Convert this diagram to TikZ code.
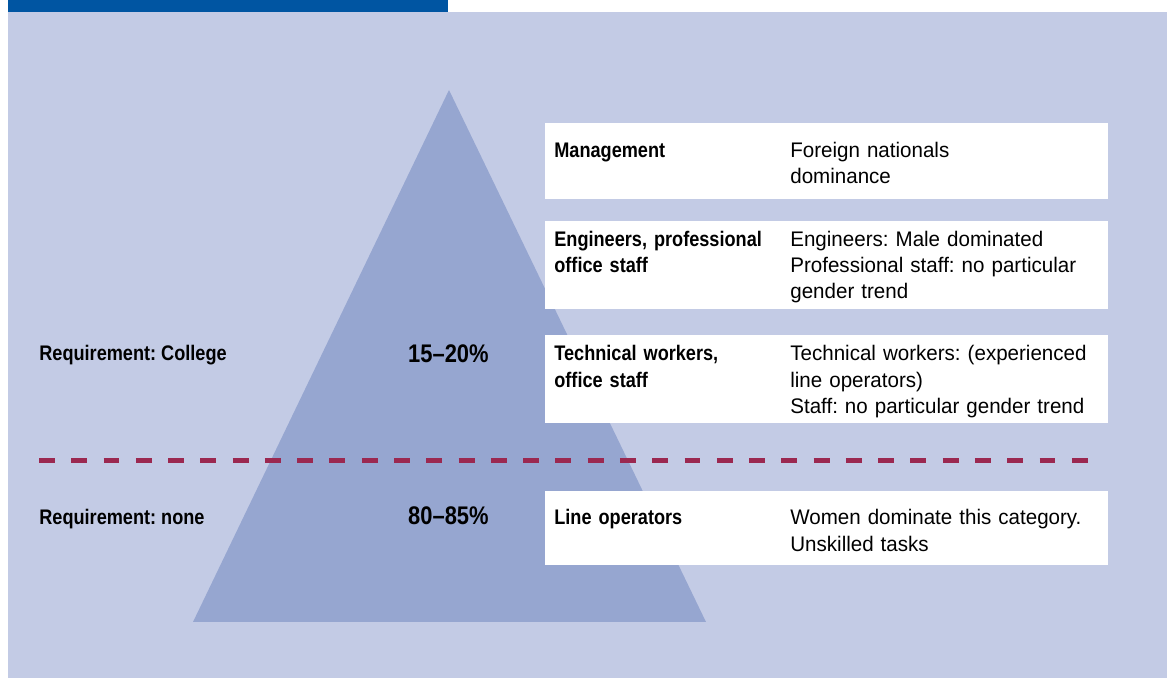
\documentclass[tikz,border=0pt]{standalone}
\usepackage{fontspec}
\setmainfont{Liberation Sans}[FakeStretch=0.975, BoldFeatures={FakeStretch=0.86}]
\usetikzlibrary{positioning}

\definecolor{panel}{RGB}{195,203,229}
\definecolor{pyramid}{RGB}{150,166,208}
\definecolor{headerblue}{RGB}{0,85,162}
\definecolor{divider}{RGB}{155,40,80}

\begin{document}
\frenchspacing
\begin{tikzpicture}[
    x=0.02cm, y=-0.02cm,
    role/.style={anchor=base west, inner sep=0pt, text width=4.4cm, align=left,
                 font=\fontsize{12}{14.8}\selectfont\bfseries},
    note/.style={anchor=base west, inner sep=0pt, text width=6.4cm, align=left,
                 font=\fontsize{12}{14.8}\selectfont},
    req/.style={anchor=base west, inner sep=0pt, font=\fontsize{12}{14.8}\selectfont\bfseries},
    share/.style={anchor=base east, inner sep=0pt, font=\fontsize{14.5}{17}\selectfont\bfseries},
    row/.style={fill=white}
  ]
  \useasboundingbox (0,0) rectangle (1167,678);

  % --- panel and header strip ---
  \fill[panel] (8,12) rectangle (1167,678);
  \fill[headerblue] (8,0) rectangle (448,12);

  % --- pyramid ---
  \fill[pyramid] (449,90) -- (706,622) -- (193,622) -- cycle;

  % --- white rows ---
  \fill[row] (545,123) rectangle (1108,199);
  \fill[row] (545,221) rectangle (1108,309);
  \fill[row] (545,335) rectangle (1108,423);
  \fill[row] (545,491) rectangle (1108,565);

  % --- Management ---
  \node[role] (mgmt) at (554,158) {Management};
  \node[note] (mgmt-note) at (790,158) {Foreign nationals\\dominance};

  % --- Engineers ---
  \node[role] (eng) at (554,247) {Engineers, professional\\office staff};
  \node[note] (eng-note) at (790,247) {Engineers: Male dominated\\Professional staff: no particular\\gender trend};

  % --- Technical workers ---
  \node[role] (tech) at (554,361) {Technical workers,\\office staff};
  \node[note] (tech-note) at (790,361) {Technical workers: (experienced\\line operators)\\Staff: no particular gender trend};

  % --- Line operators ---
  \node[role] (line) at (554,525) {Line operators};
  \node[note] (line-note) at (790,525) {Women dominate this category.\\Unskilled tasks};

  % --- requirements and shares ---
  \node[req] (req-college) at (39,361) {Requirement: College};
  \node[share] (share-college) at (489,363) {15–20\%};
  \node[req] (req-none) at (39,525) {Requirement: none};
  \node[share] (share-none) at (489,525) {80–85\%};

  % --- divider ---
  \coordinate (div-l) at (39,461);
  \coordinate (div-r) at (1092,461);
  \draw[divider, line width=0.1cm, dash pattern=on 9.07pt off 9.3pt] (div-l) -- (div-r);

\end{tikzpicture}
\end{document}
